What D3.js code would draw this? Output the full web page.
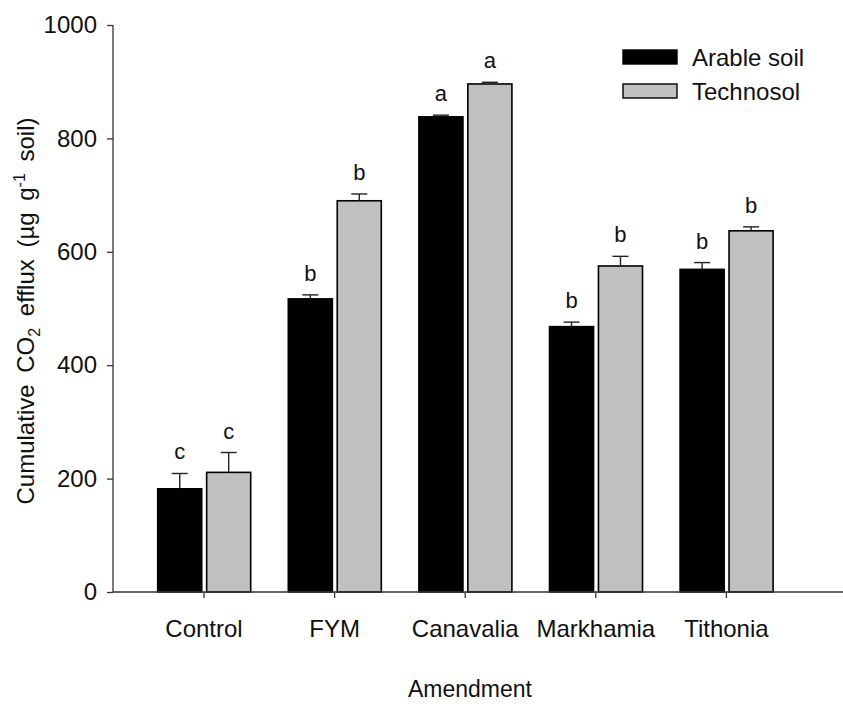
<!DOCTYPE html>
<html>
<head>
<meta charset="utf-8">
<script src="https://cdn.jsdelivr.net/npm/d3@7"></script>
<style>
  html, body { margin: 0; padding: 0; background: #fff; }
  svg text { font-family: "Liberation Sans", Arial, sans-serif; fill: #111; }
</style>
</head>
<body>
<svg id="chart" width="843" height="722"></svg>
<script>
// Cumulative CO2 efflux by amendment, two soils
const categories = ["Control", "FYM", "Canavalia", "Markhamia", "Tithonia"];
const seriesNames = ["Arable soil", "Technosol"];
const arableValues = [182, 517, 838, 468, 569];
const arableErrors = [27, 7, 3, 8, 12];
const technosolValues = [211, 690, 896, 575, 637];
const technosolErrors = [35, 12, 3, 17, 7];
const arableLetters = ["c", "b", "a", "b", "b"];
const technosolLetters = ["c", "b", "a", "b", "b"];
const yTicks = [0, 200, 400, 600, 800, 1000];
const seriesColors = ["#000000", "#c0c0c0"];

const rows = [];
categories.forEach((cat, i) => {
  rows.push({ cat, series: seriesNames[0], value: arableValues[i], err: arableErrors[i], letter: arableLetters[i] });
  rows.push({ cat, series: seriesNames[1], value: technosolValues[i], err: technosolErrors[i], letter: technosolLetters[i] });
});

const svg = d3.select("#chart");
const axisLeft = 113, axisRight = 843, y0 = 592, yTop = 25;

const x = d3.scaleBand().domain(categories).range([138.7, 791.7]).padding(0);
const xInner = d3.scaleBand().domain(seriesNames).range([19, 112]).paddingInner(0.1);
const y = d3.scaleLinear().domain([0, 1000]).range([y0, yTop]);
const color = d3.scaleOrdinal().domain(seriesNames).range(seriesColors);

// bars
const g = svg.append("g");
g.selectAll("rect.bar").data(rows).join("rect")
  .attr("class", "bar")
  .attr("x", d => x(d.cat) + xInner(d.series))
  .attr("y", d => y(d.value))
  .attr("width", xInner.bandwidth())
  .attr("height", d => y(0) - y(d.value))
  .attr("fill", d => color(d.series))
  .attr("stroke", "#000")
  .attr("stroke-width", 1.6);

// upward error bars
const cx = d => x(d.cat) + xInner(d.series) + xInner.bandwidth() / 2;
g.selectAll("line.err").data(rows).join("line")
  .attr("class", "err")
  .attr("x1", cx).attr("x2", cx)
  .attr("y1", d => y(d.value)).attr("y2", d => y(d.value + d.err))
  .attr("stroke", "#222").attr("stroke-width", 1.4);
g.selectAll("line.cap").data(rows).join("line")
  .attr("class", "cap")
  .attr("x1", d => cx(d) - 8).attr("x2", d => cx(d) + 8)
  .attr("y1", d => y(d.value + d.err)).attr("y2", d => y(d.value + d.err))
  .attr("stroke", "#222").attr("stroke-width", 1.4);

// significance letters
g.selectAll("text.sig").data(rows).join("text")
  .attr("class", "sig")
  .attr("x", cx)
  .attr("y", d => y(d.value + d.err) - 14)
  .attr("text-anchor", "middle")
  .attr("font-size", 22)
  .text(d => d.letter);

// y axis
const yAxis = svg.append("g").attr("transform", `translate(${axisLeft},0)`)
  .call(d3.axisLeft(y).tickValues(yTicks).tickSize(6).tickPadding(10).tickFormat(d3.format("d")));
yAxis.select(".domain").attr("d", `M0,${y0}V${yTop}`).attr("stroke", "#333").attr("stroke-width", 1.3);
yAxis.selectAll(".tick line").attr("stroke", "#333").attr("stroke-width", 1.3);
yAxis.selectAll(".tick text").attr("font-size", 24).attr("font-family", "Liberation Sans, Arial, sans-serif").attr("fill", "#111");

// x axis
const xAxis = svg.append("g").attr("transform", `translate(0,${y0})`)
  .call(d3.axisBottom(x).tickSize(6).tickPadding(22));
xAxis.select(".domain").attr("d", `M${axisLeft},0H${axisRight}`).attr("stroke", "#333").attr("stroke-width", 1.3);
xAxis.selectAll(".tick line").attr("stroke", "#333").attr("stroke-width", 1.3);
xAxis.selectAll(".tick text").attr("font-size", 24).attr("font-family", "Liberation Sans, Arial, sans-serif").attr("fill", "#111");

// axis titles
svg.append("text")
  .attr("x", 470).attr("y", 697)
  .attr("text-anchor", "middle")
  .attr("font-size", 23)
  .text("Amendment");

const yTitle = svg.append("text")
  .attr("transform", "translate(34,311) rotate(-90)")
  .attr("text-anchor", "middle")
  .attr("font-size", 24)
  .attr("word-spacing", 5);
yTitle.append("tspan").text("Cumulative CO");
yTitle.append("tspan").attr("font-size", 16).attr("dy", 6).text("2");
yTitle.append("tspan").attr("dy", -6).text(" efflux (µg g");
yTitle.append("tspan").attr("font-size", 16).attr("dy", -9).text("-1");
yTitle.append("tspan").attr("dy", 9).text(" soil)");

// legend
const legend = svg.append("g");
seriesNames.forEach((s, i) => {
  const ly = 50 + i * 34;
  legend.append("rect")
    .attr("x", 623).attr("y", ly).attr("width", 54).attr("height", 14)
    .attr("fill", color(s)).attr("stroke", "#000").attr("stroke-width", 1.4);
  legend.append("text")
    .attr("x", 692).attr("y", ly + 16)
    .attr("font-size", 24)
    .text(s);
});
</script>
</body>
</html>
